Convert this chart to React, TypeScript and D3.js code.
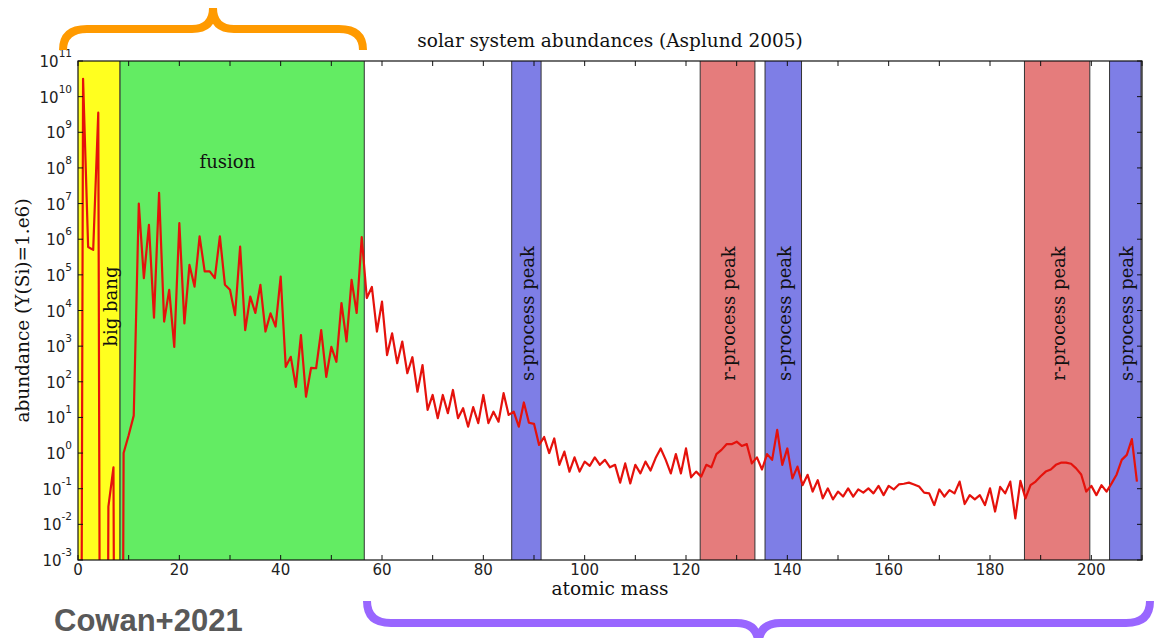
import React from 'react';
import * as d3 from 'd3';

// log10 of abundance, Si = 1e6; null = nothing there (clipped to the bottom)
// A = 0..11
const bigBangLog = [null, 10.5, 5.78, 5.7, 9.55, null, -1.5, -0.4, null, 0.0, 0.5, 1.05];
// A = 12..56
const fusionLog = [
  7.0, 4.91, 6.4, 3.8, 7.3, 3.69, 4.58, 2.98, 6.45, 3.64,
  5.28, 4.67, 6.08, 5.1, 5.1, 4.91, 6.08, 4.72, 4.58, 3.87,
  5.79, 3.45, 4.39, 3.93, 4.72, 3.41, 3.92, 3.55, 4.95, 2.42,
  2.7, 1.86, 3.31, 1.58, 2.39, 2.38, 3.45, 2.14, 2.98, 2.56,
  4.21, 3.13, 4.86, 3.93, 6.06,
];
// A = 57..209
const heavyLog = [
  4.35, 4.66, 3.41, 4.25, 2.75, 3.36, 2.52, 3.13, 2.24, 2.69,
  1.72, 2.47, 1.21, 1.63, 0.98, 1.63, 1.12, 1.77, 0.98, 1.26,
  0.74, 1.29, 0.84, 1.63, 0.84, 1.16, 0.88, 1.68, 1.07, 1.16,
  0.74, 1.42, 0.85, 0.82, 0.23, 0.45, 0.0, 0.41, -0.33, 0.04,
  -0.52, -0.12, -0.52, -0.24, -0.36, -0.12, -0.33, -0.19, -0.4, -0.33,
  -0.83, -0.29, -0.85, -0.33, -0.57, -0.24, -0.49, -0.14, 0.13, -0.19,
  -0.57, -0.03, -0.57, 0.13, -0.68, -0.52, -0.66, -0.33, -0.4, -0.03,
  0.09, 0.25, 0.25, 0.32, 0.2, 0.25, -0.29, -0.12, -0.46, -0.03,
  -0.19, 0.65, -0.33, 0.13, -0.71, -0.38, -0.9, -0.61, -1.08, -0.76,
  -1.27, -0.99, -1.3, -1.08, -1.22, -0.99, -1.22, -1.02, -1.11, -0.99,
  -1.13, -0.92, -1.18, -0.92, -1.02, -0.88, -0.86, -0.83, -0.88, -0.94,
  -1.11, -1.13, -1.46, -1.02, -1.22, -1.04, -1.13, -0.8, -1.43, -1.18,
  -1.3, -1.18, -1.46, -0.99, -1.64, -0.95, -1.13, -0.8, -1.83, -0.78,
  -1.27, -0.9, -0.8, -0.65, -0.52, -0.46, -0.33, -0.27, -0.27, -0.3,
  -0.43, -0.6, -1.08, -0.92, -1.18, -0.9, -1.08, -0.85, -0.6, -0.19,
  -0.05, 0.39, -0.8,
];

const bandKinds = ['bigbang', 'fusion', 's', 'r', 's', 'r', 's'];
const bandStart = [0, 8.3, 85.6, 122.8, 135.6, 186.8, 203.6];
const bandEnd = [8.3, 56.5, 91.4, 133.6, 142.8, 199.7, 209.8];
const bandLabels = ['big bang', 'fusion', 's-process peak', 'r-process peak', 's-process peak', 'r-process peak', 's-process peak'];

const xTicks = d3.range(0, 211, 10);
const xTickLabels = d3.range(0, 201, 20);
const yExponents = d3.range(-3, 12);

const W = 1154;
const H = 638;
const left = 78, right = 1142, top = 61, bottom = 560;

const serif = '"DejaVu Serif", serif';
const sans = '"DejaVu Sans", sans-serif';

const fills: Record<string, string> = {
  bigbang: '#ffff1f',
  fusion: '#63ec63',
  s: '#7e7ee6',
  r: '#e57c7c',
};

// curly brace: ends at yEnd, straight part at yMid, tip at (xc, yTip)
function brace(x0: number, x1: number, yEnd: number, yMid: number, yTip: number, r: number) {
  const xc = (x0 + x1) / 2;
  const r2 = Math.abs(yMid - yTip);
  return `M${x0},${yEnd} Q${x0},${yMid} ${x0 + r},${yMid} L${xc - r2},${yMid} Q${xc},${yMid} ${xc},${yTip}` +
    ` Q${xc},${yMid} ${xc + r2},${yMid} L${x1 - r},${yMid} Q${x1},${yMid} ${x1},${yEnd}`;
}

export default function App() {
  const x = d3.scaleLinear().domain([0, 210]).range([left, right]);
  const y = d3.scaleLog().domain([1e-3, 1e11]).range([bottom, top]);

  const logs = [...bigBangLog, ...fusionLog, ...heavyLog];
  const mass = d3.range(0, logs.length);
  const points = mass.map((a, i) => [a, logs[i]] as [number, number | null]);

  const line = d3.line<[number, number | null]>()
    .x(d => x(d[0]))
    .y(d => y(d[1] == null ? 1e-40 : Math.pow(10, d[1])));

  return (
    <svg width={W} height={H} style={{ position: 'absolute', left: 0, top: 0, background: '#fff' }}>
      <defs>
        <clipPath id="plot">
          <rect x={left} y={top} width={right - left} height={bottom - top} />
        </clipPath>
      </defs>

      {/* bands */}
      {bandKinds.map((k, i) => (
        <g key={'b' + i}>
          <rect x={x(bandStart[i])} y={top} width={x(bandEnd[i]) - x(bandStart[i])} height={bottom - top}
            fill={fills[k]} />
          {bandStart[i] > 0 && <line x1={x(bandStart[i])} x2={x(bandStart[i])} y1={top} y2={bottom} stroke="#333" strokeWidth={1} />}
          <line x1={x(bandEnd[i])} x2={x(bandEnd[i])} y1={top} y2={bottom} stroke="#333" strokeWidth={1} />
        </g>
      ))}

      {/* abundance curve */}
      <path d={line(points) || ''} fill="none" stroke="#e5120c" strokeWidth={2.2} strokeLinejoin="round" clipPath="url(#plot)" />

      {/* band labels */}
      {bandKinds.map((k, i) => {
        if (k === 'fusion') {
          return (
            <text key={'l' + i} x={x(29.5)} y={y(1e8)} textAnchor="middle" fontFamily={serif} fontSize={18} fill="#111">
              {bandLabels[i]}
            </text>
          );
        }
        const cx = k === 'bigbang' ? x(6.5) : (x(bandStart[i]) + x(bandEnd[i])) / 2 + 1;
        const cy = k === 'bigbang' ? y(1e4) - 4 : y(1e4) + 3;
        return (
          <text key={'l' + i} transform={`translate(${cx},${cy}) rotate(-90)`} textAnchor="middle" dominantBaseline="central"
            fontFamily={serif} fontSize={18} fill="#111">
            {bandLabels[i]}
          </text>
        );
      })}

      {/* frame and ticks */}
      <rect x={left} y={top} width={right - left} height={bottom - top} fill="none" stroke="#111" strokeWidth={1.2} />
      {xTicks.map(t => (
        <g key={'xt' + t}>
          <line x1={x(t)} x2={x(t)} y1={bottom} y2={bottom - 5} stroke="#111" />
          <line x1={x(t)} x2={x(t)} y1={top} y2={top + 5} stroke="#111" />
        </g>
      ))}
      {yExponents.map(e => (
        <g key={'yt' + e}>
          <line x1={left} x2={left + 5} y1={y(Math.pow(10, e))} y2={y(Math.pow(10, e))} stroke="#111" />
          <line x1={right} x2={right - 5} y1={y(Math.pow(10, e))} y2={y(Math.pow(10, e))} stroke="#111" />
        </g>
      ))}
      {xTickLabels.map(t => (
        <text key={'xl' + t} x={x(t)} y={bottom + 15} textAnchor="middle" fontFamily={sans} fontSize={15} fill="#222">
          {t}
        </text>
      ))}
      {yExponents.map(e => (
        <text key={'yl' + e} x={72} y={y(Math.pow(10, e)) + 6} textAnchor="end" fontFamily={sans} fontSize={15} fill="#222">
          10<tspan dy={-10} fontSize={10.5}>{e}</tspan>
        </text>
      ))}

      {/* titles */}
      <text x={(left + right) / 2} y={47} textAnchor="middle" fontFamily={serif} fontSize={18.5} fill="#111">
        solar system abundances (Asplund 2005)
      </text>
      <text x={(left + right) / 2} y={595} textAnchor="middle" fontFamily={serif} fontSize={18.5} fill="#111">
        atomic mass
      </text>
      <text transform={`translate(29,${(top + bottom) / 2}) rotate(-90)`} textAnchor="middle" fontFamily={serif} fontSize={18.5} fill="#111">
        abundance (Y(Si)=1.e6)
      </text>

      {/* braces */}
      <path d={brace(63, 363, 50, 29, 8, 24)} fill="none" stroke="#ff9a00" strokeWidth={8} />
      <path d={brace(367, 1150, 601, 623, 645, 24)} fill="none" stroke="#9966ff" strokeWidth={8} />

      <text x={54} y={631} fontFamily='"Liberation Sans", Arial, sans-serif' fontWeight="bold" fontSize={31} fill="#595959">
        Cowan+2021
      </text>
    </svg>
  );
}
